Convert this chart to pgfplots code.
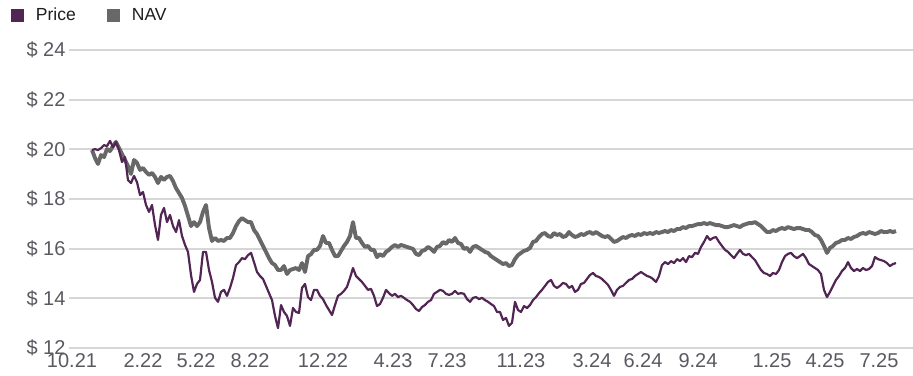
\documentclass[border=0pt]{standalone}
\usepackage{fontspec}
\setmainfont{Liberation Sans}
\usepackage{pgfplots}
\usepackage{pgfplotstable}
\pgfplotsset{compat=1.18}
\definecolor{pricecol}{RGB}{82,38,84}
\definecolor{navcol}{RGB}{104,104,104}
\definecolor{gridcol}{RGB}{214,214,214}
\definecolor{tickcol}{RGB}{89,89,96}
\definecolor{legcol}{RGB}{30,30,30}
\pgfplotstableread{
i nav price
0 19.97 19.97
1 19.65 20.01
2 19.41 19.97
3 19.77 20.05
4 19.69 20.17
5 20.01 20.13
6 19.93 20.34
7 20.13 20.09
8 20.30 20.30
9 20.05 19.97
10 19.81 19.49
11 19.57 19.69
12 19.33 18.76
13 19.01 18.64
14 19.57 18.93
15 19.45 18.68
16 19.17 18.16
17 19.25 18.28
18 19.09 17.76
19 18.97 17.48
20 19.05 17.76
21 18.89 16.95
22 18.64 16.35
23 18.89 17.36
24 18.77 17.64
25 18.89 17.07
26 18.93 17.36
27 18.72 16.91
28 18.44 16.67
29 18.24 17.15
30 18.04 16.51
31 17.72 16.15
32 17.32 15.87
33 16.91 14.94
34 17.07 14.26
35 16.91 14.58
36 17.07 14.74
37 17.48 15.87
38 17.76 15.87
39 16.83 15.14
40 16.31 14.66
41 16.43 14.02
42 16.31 13.86
43 16.35 14.26
44 16.31 14.34
45 16.43 14.10
46 16.43 14.42
47 16.63 14.82
48 16.91 15.34
49 17.11 15.46
50 17.23 15.62
51 17.15 15.58
52 17.07 15.74
53 17.07 15.83
54 16.75 15.46
55 16.59 15.06
56 16.35 14.90
57 16.11 14.78
58 15.87 14.50
59 15.62 14.21
60 15.42 13.93
61 15.34 13.29
62 15.14 12.80
63 15.14 13.73
64 15.30 13.45
65 14.98 13.29
66 15.14 12.89
67 15.18 13.61
68 15.22 13.45
69 15.14 13.41
70 15.42 14.42
71 15.06 14.58
72 15.70 14.05
73 15.78 13.93
74 15.95 14.34
75 15.95 14.34
76 16.11 14.10
77 16.51 13.97
78 16.23 13.73
79 16.23 13.53
80 15.95 13.33
81 15.70 13.73
82 15.70 14.10
83 15.91 14.18
84 16.11 14.30
85 16.27 14.46
86 16.51 14.82
87 17.07 15.22
88 16.43 14.90
89 16.43 14.78
90 16.23 14.66
91 16.07 14.50
92 16.11 14.34
93 15.95 14.38
94 15.95 14.10
95 15.66 13.69
96 15.78 13.77
97 15.70 14.02
98 15.87 14.34
99 15.95 14.21
100 16.07 14.10
101 16.15 14.18
102 16.07 14.05
103 16.15 14.10
104 16.11 14.02
105 16.07 13.93
106 16.03 13.86
107 15.99 13.73
108 15.79 13.57
109 15.74 13.49
110 15.91 13.65
111 15.95 13.73
112 16.07 13.86
113 15.99 13.93
114 15.87 14.18
115 16.07 14.26
116 16.11 14.34
117 16.27 14.30
118 16.19 14.18
119 16.35 14.14
120 16.27 14.18
121 16.43 14.30
122 16.23 14.18
123 16.19 14.21
124 15.99 14.18
125 16.03 13.97
126 15.87 13.86
127 16.07 14.02
128 16.11 14.05
129 16.03 13.97
130 15.95 14.02
131 15.87 13.93
132 15.83 13.86
133 15.70 13.77
134 15.62 13.69
135 15.54 13.45
136 15.46 13.45
137 15.38 13.13
138 15.42 13.21
139 15.30 12.89
140 15.34 13.01
141 15.58 13.86
142 15.74 13.53
143 15.83 13.45
144 15.91 13.69
145 15.95 13.61
146 16.03 13.73
147 16.27 13.93
148 16.31 14.05
149 16.47 14.21
150 16.59 14.34
151 16.63 14.50
152 16.51 14.66
153 16.47 14.74
154 16.63 14.50
155 16.55 14.42
156 16.59 14.50
157 16.47 14.62
158 16.51 14.58
159 16.67 14.42
160 16.55 14.50
161 16.47 14.26
162 16.51 14.34
163 16.59 14.58
164 16.55 14.62
165 16.63 14.78
166 16.67 14.94
167 16.59 15.02
168 16.67 14.90
169 16.59 14.86
170 16.51 14.78
171 16.47 14.66
172 16.51 14.54
173 16.39 14.34
174 16.27 14.10
175 16.31 14.34
176 16.39 14.46
177 16.47 14.50
178 16.43 14.62
179 16.51 14.74
180 16.55 14.78
181 16.51 14.90
182 16.59 14.98
183 16.55 15.06
184 16.63 14.98
185 16.59 14.90
186 16.63 14.86
187 16.59 14.78
188 16.67 14.66
189 16.63 14.90
190 16.67 15.34
191 16.71 15.46
192 16.67 15.38
193 16.75 15.50
194 16.71 15.42
195 16.79 15.58
196 16.79 15.50
197 16.87 15.62
198 16.83 15.46
199 16.91 15.70
200 16.91 15.66
201 16.95 15.83
202 16.99 15.79
203 16.99 16.07
204 17.03 16.27
205 16.99 16.51
206 17.03 16.35
207 16.99 16.43
208 16.95 16.47
209 16.95 16.27
210 16.91 16.11
211 16.87 15.95
212 16.87 15.87
213 16.91 15.74
214 16.95 15.62
215 16.91 15.79
216 16.87 15.95
217 16.95 15.79
218 16.99 15.74
219 17.03 15.79
220 17.03 15.66
221 17.07 15.54
222 16.99 15.34
223 16.91 15.14
224 16.79 15.02
225 16.67 14.98
226 16.67 14.90
227 16.75 15.02
228 16.71 14.98
229 16.79 15.14
230 16.83 15.46
231 16.79 15.70
232 16.87 15.79
233 16.83 15.83
234 16.79 15.70
235 16.83 15.62
236 16.83 15.70
237 16.79 15.79
238 16.75 15.62
239 16.75 15.38
240 16.67 15.30
241 16.55 15.22
242 16.51 15.14
243 16.35 14.98
244 16.11 14.34
245 15.83 14.05
246 16.03 14.26
247 16.11 14.50
248 16.23 14.74
249 16.27 14.90
250 16.35 15.10
251 16.35 15.22
252 16.43 15.46
253 16.39 15.22
254 16.47 15.10
255 16.51 15.18
256 16.59 15.10
257 16.63 15.22
258 16.59 15.14
259 16.67 15.18
260 16.63 15.30
261 16.59 15.66
262 16.63 15.58
263 16.71 15.54
264 16.67 15.50
265 16.67 15.42
266 16.71 15.30
267 16.67 15.38
268 16.71 15.42
}\datatable
\begin{document}
\begin{tikzpicture}
\useasboundingbox (-69pt,-27pt) rectangle (844pt,348pt);
\begin{axis}[
  at={(0pt,0pt)}, anchor=south west,
  scale only axis, width=844pt, height=298pt,
  xmin=-7.67, xmax=273.67, ymin=12, ymax=24,
  axis line style={draw=none},
  tick style={draw=none},
  major tick length=0pt,
  ymajorgrids, grid style={gridcol, line width=1.8pt},
  xtick={-6.67,17,34.67,52.67,77,100.33,118.33,143,166.67,183.67,202,226.67,244.33,262.33},
  xticklabels={10.21,2.22,5.22,8.22,12.22,4.23,7.23,11.23,3.24,6.24,9.24,1.25,4.25,7.25},
  ytick={12,14,16,18,20,22,24},
  yticklabels={\$ 12,\$ 14,\$ 16,\$ 18,\$ 20,\$ 22,\$ 24},
  tick label style={font=\fontsize{20}{24}\selectfont, text=tickcol},
  xticklabel style={yshift=-2pt},
  clip=false,
  legend style={draw=none, fill=none, inner sep=0pt, outer sep=0pt,
    at={([xshift=-58pt,yshift=42pt]axis description cs:0,1)}, anchor=north west,
    font=\fontsize{17.5}{21}\selectfont, text=legcol,
    nodes={inner sep=0pt},
    /tikz/every odd column/.append style={column sep=12pt},
    /tikz/every even column/.append style={column sep=31pt}},
  legend columns=2,
  legend image code/.code={\fill[#1, draw=none] (0pt,-6.5pt) rectangle (13pt,6.5pt);},
]
\addplot[navcol, line width=3.9pt, line join=round, forget plot] table[x=i, y=nav] {\datatable};
\addplot[pricecol, line width=2.2pt, line join=round] table[x=i, y=price] {\datatable};
\addlegendentry{Price}
\addlegendimage{navcol, line width=3.9pt}
\addlegendentry{NAV}
\end{axis}
\end{tikzpicture}
\end{document}
